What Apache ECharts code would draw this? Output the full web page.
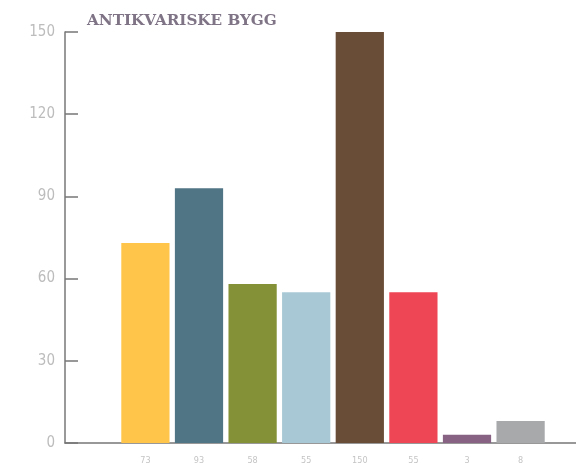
<!DOCTYPE html>
<html><head><meta charset="utf-8">
<script src="https://cdn.jsdelivr.net/npm/echarts@6/dist/echarts.min.js"></script>
<style>html,body{margin:0;padding:0;background:#fff}#c{width:576px;height:463px}</style>
</head><body><div id="c"></div>
<script>
const title = 'ANTIKVARISKE BYGG';
const categories = ['', '73', '93', '58', '55', '150', '55', '3', '8', ''];
const values = [null, 73, 93, 58, 55, 150, 55, 3, 8, null];
const colors = [null, '#FFC54B', '#507585', '#849136', '#A7C8D4', '#694D36', '#EF4655', '#886283', '#A8A9AB', null];
const yTicks = [0, 30, 60, 90, 120, 150];

const chart = echarts.init(document.getElementById('c'));
chart.setOption({
  animation: false,
  title: {
    text: title, left: 82, top: 9,
    textStyle: {fontFamily: 'DejaVu Serif', fontSize: 15.2, fontWeight: 'bold', color: '#7f7486'}
  },
  grid: {left: 65, top: 32, bottom: 20, width: 536, containLabel: false, outerBoundsMode: 'none'},
  xAxis: {
    type: 'category', data: categories,
    axisLine: {lineStyle: {color: '#777', width: 1.5}},
    axisTick: {show: false},
    axisLabel: {color: '#c4c4c4', fontSize: 9, margin: 13, fontFamily: 'Liberation Sans Narrow, DejaVu Sans Condensed, sans-serif'}
  },
  yAxis: {
    type: 'value', min: yTicks[0], max: yTicks[yTicks.length - 1], interval: 30,
    splitLine: {show: false},
    axisLine: {show: true, lineStyle: {color: '#777', width: 1.5}},
    axisTick: {show: true, inside: true, length: 13, lineStyle: {color: '#777', width: 1.5}},
    axisLabel: {color: '#bcbcbc', fontSize: 15, margin: 10, fontFamily: 'Liberation Sans Narrow, DejaVu Sans Condensed, sans-serif'}
  },
  series: [{
    type: 'bar', barCategoryGap: '10%',
    data: values.map((v, i) => ({value: v, itemStyle: {color: colors[i]}}))
  }]
});
</script></body></html>
